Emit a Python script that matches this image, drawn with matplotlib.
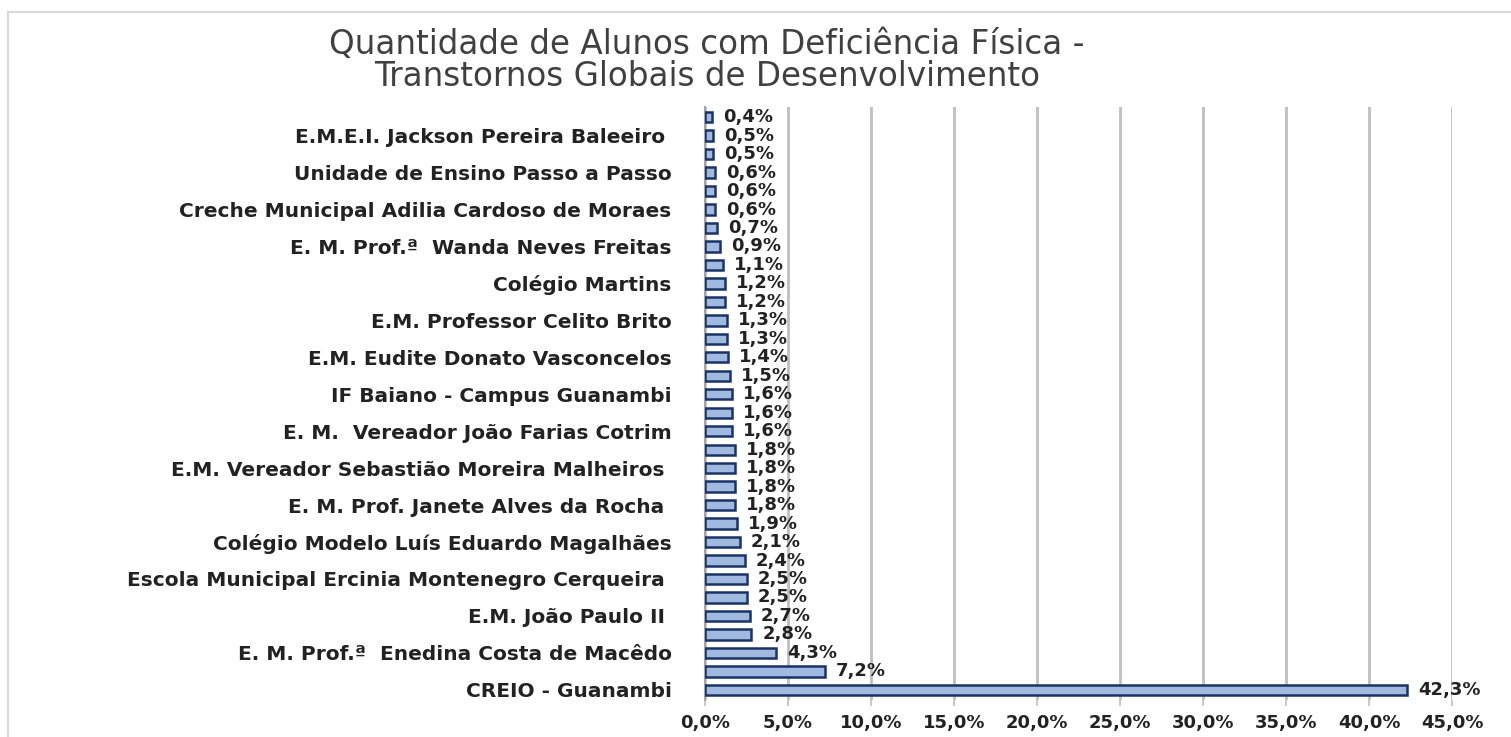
"""Quantidade de alunos com deficiência física - TGD, barras horizontais."""
import matplotlib
matplotlib.use("Agg")
import matplotlib.pyplot as plt
import matplotlib.ticker as ticker
from matplotlib.patches import Rectangle

# bottom -> top
VALUES = [42.3, 7.2, 4.3, 2.8, 2.7, 2.5, 2.5, 2.4, 2.1, 1.9, 1.8, 1.8, 1.8, 1.8,
          1.6, 1.6, 1.6, 1.5, 1.4, 1.3, 1.3, 1.2, 1.2, 1.1, 0.9, 0.7, 0.6, 0.6,
          0.6, 0.5, 0.5, 0.4]
LABELS = [
    "CREIO - Guanambi", "",
    "E. M. Prof.ª  Enedina Costa de Macêdo", "",
    "E.M. João Paulo II ", "",
    "Escola Municipal Ercinia Montenegro Cerqueira ", "",
    "Colégio Modelo Luís Eduardo Magalhães", "",
    "E. M. Prof. Janete Alves da Rocha ", "",
    "E.M. Vereador Sebastião Moreira Malheiros ", "",
    "E. M.  Vereador João Farias Cotrim", "",
    "IF Baiano - Campus Guanambi", "",
    "E.M. Eudite Donato Vasconcelos", "",
    "E.M. Professor Celito Brito", "",
    "Colégio Martins", "",
    "E. M. Prof.ª  Wanda Neves Freitas", "",
    "Creche Municipal Adilia Cardoso de Moraes", "",
    "Unidade de Ensino Passo a Passo", "",
    "E.M.E.I. Jackson Pereira Baleeiro ", "",
]
TITLE = "Quantidade de Alunos com Deficiência Física -\nTranstornos Globais de Desenvolvimento"
X_TICKS = [0, 5, 10, 15, 20, 25, 30, 35, 40, 45]

TEXT = "#222222"
BAR_FACE = "#A0B9DE"
BAR_EDGE = "#1A3366"
GRID = "#BFBFBF"


def pct(v: float, _=None) -> str:
    return f"{v:.1f}%".replace(".", ",")


def main() -> None:
    plt.rcParams["font.family"] = "DejaVu Sans"
    fig = plt.figure(figsize=(15.11, 7.37), dpi=100)
    fig.patch.set_facecolor("white")

    # outer chart frame
    fig.patches.append(Rectangle((8 / 1511, -0.02), 1.1, 1 - 12 / 737 + 0.02,
                                 transform=fig.transFigure, fill=False,
                                 edgecolor="#D9D9D9", linewidth=1.5))

    ax = fig.add_axes([705 / 1511, 1 - 700 / 737, (1452 - 705) / 1511, (700 - 107) / 737])
    ypos = list(range(len(VALUES)))
    ax.barh(ypos, VALUES, height=0.56, color=BAR_FACE, edgecolor=BAR_EDGE, linewidth=1.8, zorder=3)

    for y, v in zip(ypos, VALUES):
        ax.annotate(pct(v), (v, y), xytext=(8, 0), textcoords="offset points",
                    va="center", ha="left", fontsize=13, fontweight="bold", color=TEXT)

    ax.set_xlim(0, 45)
    ax.set_ylim(-0.55, len(VALUES) - 0.45)
    ax.set_xticks(X_TICKS)
    ax.xaxis.set_major_formatter(ticker.FuncFormatter(pct))
    ax.set_yticks(ypos)
    ax.set_yticklabels(LABELS, fontsize=14.5, fontweight="bold", color=TEXT)
    ax.tick_params(axis="y", length=0, pad=24)
    ax.tick_params(axis="x", length=4, width=1.2, color="#BFBFBF", pad=6,
                   labelsize=13, labelcolor=TEXT)
    for lbl in ax.get_xticklabels():
        lbl.set_fontweight("bold")

    ax.grid(True, axis="x", color=GRID, linewidth=2, zorder=0)
    for side in ("top", "right", "bottom"):
        ax.spines[side].set_visible(False)
    ax.spines["left"].set_color("#A6A6A6")
    ax.spines["left"].set_linewidth(1.5)

    fig.text(0.468, 0.918, TITLE, ha="center", va="center", fontsize=23.5,
             color="#404040", linespacing=0.98)

    fig.savefig("out.png", dpi=100)
    plt.close(fig)


if __name__ == "__main__":
    main()
